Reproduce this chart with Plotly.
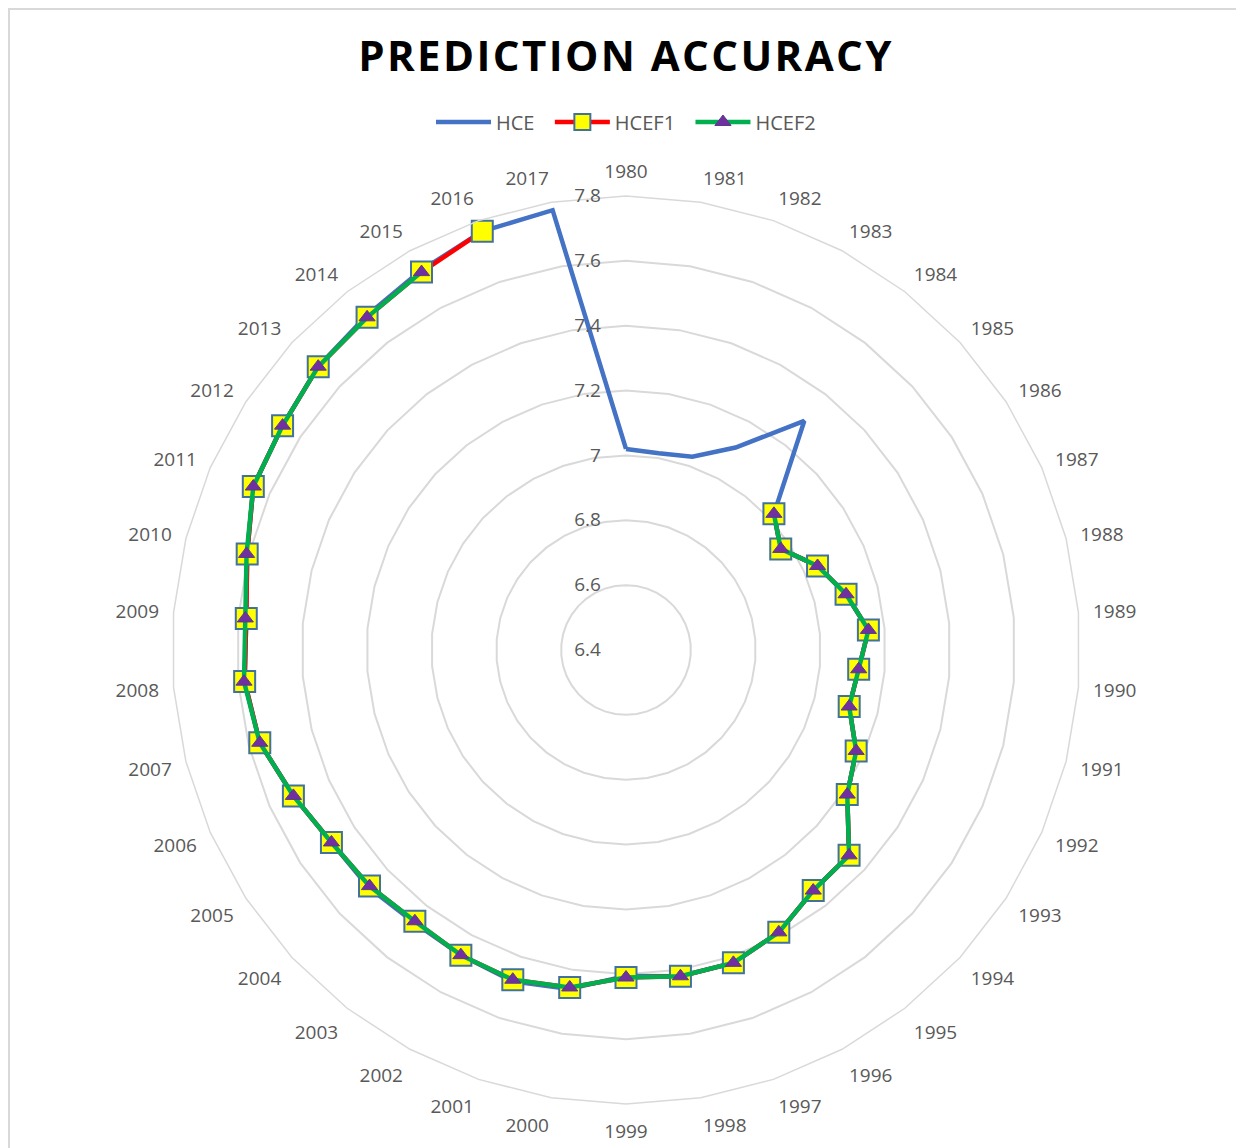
import plotly.graph_objects as go

years = [str(y) for y in range(1980, 2018)]

hce = [7.02, 7.015, 7.03, 7.11, 7.295, 7.02, 6.97, 7.045, 7.10, 7.15,
       7.12, 7.11, 7.175, 7.215, 7.335, 7.34, 7.39, 7.42, 7.42, 7.405,
       7.46, 7.48, 7.47, 7.465, 7.48, 7.485, 7.52, 7.565, 7.58, 7.575,
       7.605, 7.655, 7.665, 7.69, 7.705, 7.73, 7.765, 7.775]

hcef1 = [None, None, None, None, None, 7.02, 6.97, 7.045, 7.10, 7.15,
         7.12, 7.11, 7.175, 7.215, 7.335, 7.34, 7.39, 7.42, 7.42, 7.41,
         7.455, 7.475, 7.47, 7.46, 7.475, 7.485, 7.52, 7.565, 7.58, 7.575,
         7.605, 7.655, 7.665, 7.69, 7.70, 7.725, 7.765, None]

hcef2 = [None, None, None, None, None, 7.02, 6.97, 7.045, 7.10, 7.15,
         7.12, 7.11, 7.175, 7.215, 7.335, 7.34, 7.39, 7.42, 7.42, 7.41,
         7.455, 7.475, 7.47, 7.46, 7.475, 7.485, 7.52, 7.565, 7.582, 7.578,
         7.607, 7.655, 7.665, 7.69, 7.70, 7.725, None, None]

series_names = ["HCE", "HCEF1", "HCEF2"]

radial_ticks = [6.4, 6.6, 6.8, 7.0, 7.2, 7.4, 7.6, 7.8]
radial_labels = ["6.4", "6.6", "6.8", "7", "7.2", "7.4", "7.6", "7.8"]

FONT = "Open Sans"
GRAY = "#595959"
GRID = "#d9d9d9"
PAD = "\u00a0\u00a0"  # extra gap after legend entries

fig = go.Figure()

# HCE (closed loop like an Excel radar)
fig.add_trace(go.Scatterpolar(
    r=hce + [hce[0]], theta=years + [years[0]], name=series_names[0] + PAD,
    mode="lines",
    line=dict(color="#4472C4", width=4.5),
))
fig.add_trace(go.Scatterpolar(
    r=hcef1, theta=years, name=series_names[1] + PAD, mode="lines+markers",
    line=dict(color="#FF0000", width=4.5),
    marker=dict(symbol="square", size=21, color="#FFFF00",
                line=dict(color="#41719C", width=2)),
))
fig.add_trace(go.Scatterpolar(
    r=hcef2, theta=years, name=series_names[2], mode="lines+markers",
    line=dict(color="#00B050", width=4.5),
    marker=dict(symbol="triangle-up", size=14, color="#7030A0",
                line=dict(color="#5B3A8A", width=1)),
))

# page has an 8px body margin; figure coordinates are page - 8
W, H = 1236, 1140
cx, cy, R = 618, 642, 454

fig.update_layout(
    width=W, height=H,
    margin=dict(l=0, r=0, t=0, b=0),
    paper_bgcolor="white",
    plot_bgcolor="white",
    title=dict(text='<span style="letter-spacing:2.4px">PREDICTION ACCURACY</span>',
               x=0.5, xanchor="center",
               y=1 - 48 / H, yanchor="middle",
               font=dict(family=FONT, size=42, color="black", weight="bold")),
    legend=dict(orientation="h", x=0.5, xanchor="center",
                y=1 - 114 / H, yanchor="middle",
                font=dict(family=FONT, size=20, color=GRAY),
                itemwidth=55, bgcolor="rgba(0,0,0,0)"),
    polar=dict(
        domain=dict(x=[(cx - R) / W, (cx + R) / W],
                    y=[(H - cy - R) / H, (H - cy + R) / H]),
        bgcolor="white",
        gridshape="linear",
        radialaxis=dict(range=[6.4, 7.8], tickvals=radial_ticks,
                        ticktext=radial_labels, angle=90, side="counterclockwise",
                        showline=False, gridcolor=GRID, gridwidth=1.5,
                        ticks="outside", ticklen=18,
                        tickcolor="rgba(0,0,0,0)", tickangle=90,
                        tickfont=dict(family=FONT, size=19, color=GRAY)),
        angularaxis=dict(type="category", categoryorder="array",
                         categoryarray=years, direction="clockwise",
                         rotation=90, showgrid=False, showline=True,
                         linecolor=GRID, linewidth=1.5,
                         ticks="outside", ticklen=10,
                         tickcolor="rgba(0,0,0,0)",
                         tickfont=dict(family=FONT, size=19, color=GRAY)),
    ),
    shapes=[dict(type="rect", xref="paper", yref="paper",
                 x0=1 / W, x1=1235 / W, y0=-0.02, y1=1 - 1 / H,
                 line=dict(color=GRID, width=2), fillcolor="rgba(0,0,0,0)",
                 layer="below")],
)

fig.write_html("out.html")
